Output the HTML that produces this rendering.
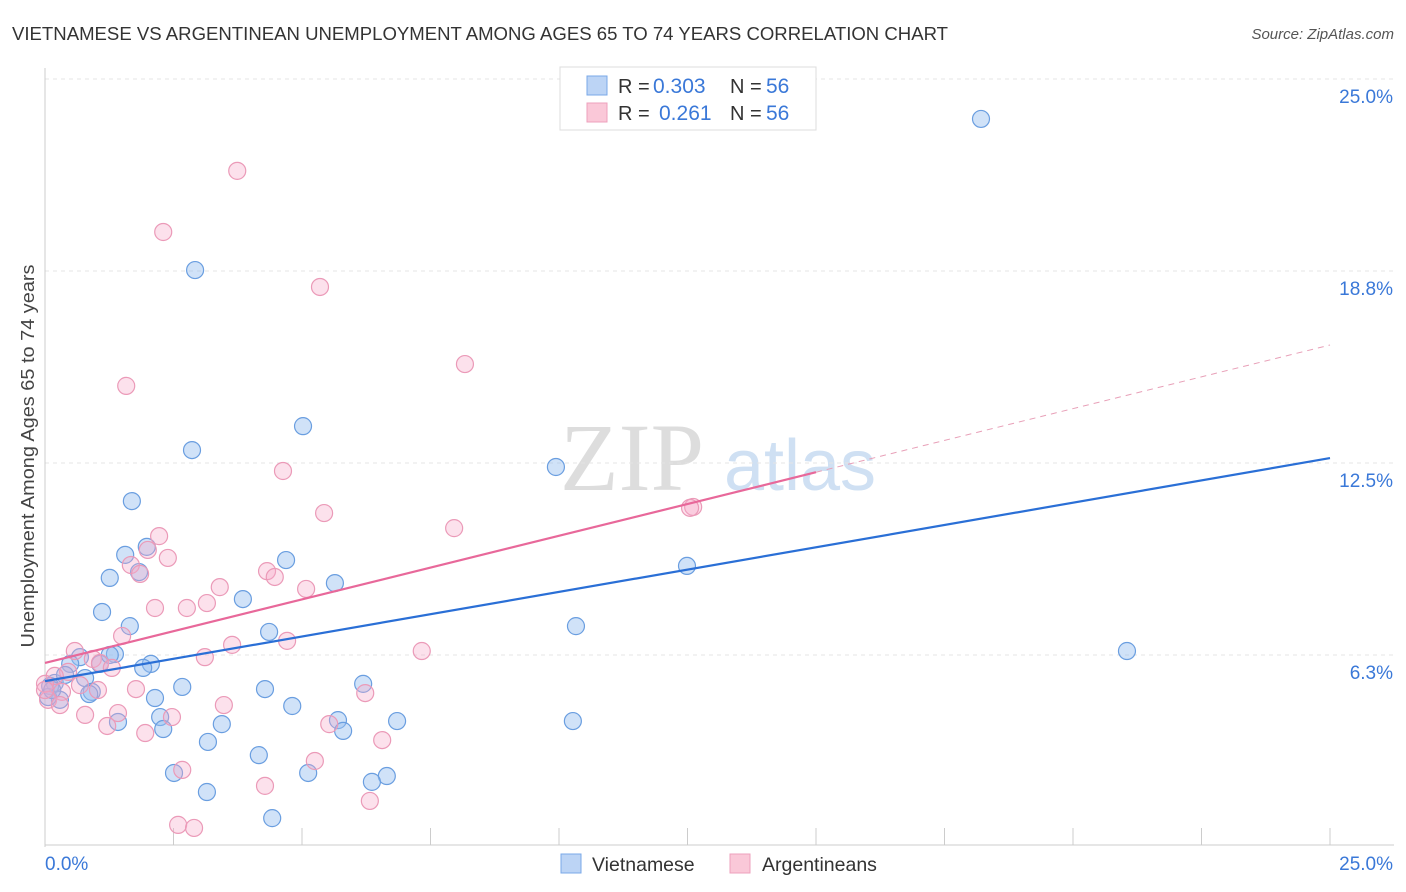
<!DOCTYPE html>
<html><head><meta charset="utf-8">
<style>
body{margin:0;background:#fff;font-family:"Liberation Sans",sans-serif;}
svg{display:block}
</style></head>
<body>
<svg id="chart" width="1406" height="892" xmlns="http://www.w3.org/2000/svg">
<text x="12" y="40" font-size="18" fill="#333" textLength="936" lengthAdjust="spacingAndGlyphs">VIETNAMESE VS ARGENTINEAN UNEMPLOYMENT AMONG AGES 65 TO 74 YEARS CORRELATION CHART</text>
<text x="1394" y="39" font-size="15" fill="#555" font-style="italic" text-anchor="end">Source: ZipAtlas.com</text>
<g id="watermark">
<text x="632" y="490" font-size="96" fill="#ddd" text-anchor="middle" font-family="Liberation Serif, serif">ZIP</text>
<text x="800" y="490" font-size="72" fill="#cfe0f3" text-anchor="middle">atlas</text>
</g>
<g id="grid"></g>
<g id="axes"></g>
<g id="pts"></g>
<g id="lines"></g>
<text transform="translate(34,456) rotate(-90)" font-size="18" fill="#444" text-anchor="middle" textLength="383" lengthAdjust="spacingAndGlyphs">Unemployment Among Ages 65 to 74 years</text>
<g>
<rect x="560" y="67" width="256" height="63" fill="#fff" stroke="#ddd"/>
<rect x="587" y="76" width="20" height="19" fill="#bcd4f5" stroke="#7aa8e8"/>
<text x="618" y="93" font-size="20" fill="#333">R = </text><text x="653" y="93" font-size="21" fill="#3a78d8">0.303</text>
<text x="730" y="93" font-size="20" fill="#333">N = </text><text x="766" y="93" font-size="21" fill="#3a78d8">56</text>
<rect x="587" y="103" width="20" height="19" fill="#fac8d8" stroke="#eea0bc"/>
<text x="618" y="120" font-size="20" fill="#333">R = </text><text x="659" y="120" font-size="21" fill="#3a78d8">0.261</text>
<text x="730" y="120" font-size="20" fill="#333">N = </text><text x="766" y="120" font-size="21" fill="#3a78d8">56</text>
</g>
<g>
<rect x="561" y="854" width="20" height="19" fill="#bcd4f5" stroke="#7aa8e8"/>
<text x="592" y="871" font-size="19.5" fill="#333">Vietnamese</text>
<rect x="730" y="854" width="20" height="19" fill="#fac8d8" stroke="#eea0bc"/>
<text x="762" y="871" font-size="19.5" fill="#333">Argentineans</text>
</g>
</svg>
<script>
const yTicks=[6.25,12.5,18.75,25];
const yTickLabels=["6.3%","12.5%","18.8%","25.0%"];
const xTicks=[0,2.5,5,7.5,10,12.5,15,17.5,20,22.5,25];
const viX=[18.21,2.92,5.02,2.86,9.94,1.69,1.56,1.98,4.69,1.26,1.83,5.64,3.85,1.11,1.65,10.33,12.49,4.36,21.05,1.36,0.68,0.49,1.07,2.06,1.91,0.19,0.10,0.78,0.91,0.86,2.67,4.28,6.19,2.14,0.29,4.81,2.24,5.70,6.85,10.27,1.42,3.44,2.30,5.80,3.17,4.16,2.51,5.12,6.65,6.36,3.15,4.42,0.06,0.14,0.39,1.26];
const viY=[23.70,18.78,13.70,12.92,12.37,11.26,9.51,9.77,9.34,8.76,8.95,8.59,8.07,7.65,7.19,7.19,9.15,7.00,6.38,6.28,6.18,5.96,5.96,5.96,5.83,5.34,5.24,5.50,5.05,4.98,5.21,5.14,5.31,4.85,4.79,4.59,4.23,4.13,4.10,4.10,4.07,4.00,3.84,3.78,3.42,2.99,2.41,2.41,2.31,2.12,1.79,0.94,4.88,5.11,5.60,6.25];
const arX=[3.74,2.30,5.35,8.17,1.58,4.63,5.43,7.96,2.22,12.61,2.00,2.39,1.67,4.32,4.47,1.85,3.40,5.08,2.14,2.76,3.15,1.50,3.64,4.71,7.33,0.58,0.93,1.07,1.30,3.11,0.45,0.19,0.0,1.03,1.77,0.33,3.48,6.23,0.78,1.42,2.47,1.21,1.95,5.53,6.56,5.25,2.67,4.28,6.32,2.59,2.90,0.06,0.29,0.68,0.0,12.55];
const arY=[22.01,20.02,18.23,15.72,15.01,12.24,10.87,10.38,10.12,11.07,9.67,9.41,9.18,8.98,8.79,8.89,8.46,8.40,7.78,7.78,7.94,6.87,6.58,6.71,6.38,6.38,6.12,5.99,5.83,6.18,5.70,5.57,5.31,5.11,5.14,5.05,4.62,5.01,4.30,4.36,4.23,3.94,3.71,4.00,3.48,2.80,2.51,1.99,1.50,0.72,0.62,4.79,4.62,5.27,5.11,11.04];
const viTrend=[5.40,12.66];
const arTrend=[5.99,16.34];
const arSolidEnd=15;

const NS="http://www.w3.org/2000/svg";
const X0=45,X1=1330,Y0=847,Y25=79;
const sx=v=>X0+(v/25)*(X1-X0);
const sy=v=>Y0-(v/25)*(Y0-Y25);
function mk(tag,attrs,parent){const e=document.createElementNS(NS,tag);for(const k in attrs)e.setAttribute(k,attrs[k]);document.getElementById(parent).appendChild(e);return e;}

yTicks.forEach((t,i)=>{
  const g=mk('line',{x1:X0,x2:1394,y1:sy(t),y2:sy(t),stroke:'#e4e4e4','stroke-dasharray':'4,4'},'grid');
  
  
  const l=mk('text',{x:1393,y:sy(t)+24,'font-size':19,fill:'#3a78d8','text-anchor':'end'},'axes');
  l.textContent=yTickLabels[i];
  
  
});
const ax=mk('line',{x1:X0,x2:X0,y1:68,y2:Y0,stroke:'#ccc'},'axes');


const bx=mk('line',{x1:X0,x2:1394,y1:Y0-2,y2:Y0-2,stroke:'#ccc'},'axes');


xTicks.forEach(t=>{
  const k=mk('line',{x1:sx(t),x2:sx(t),y1:828,y2:845,stroke:'#ccc'},'axes');
  
  
});
const xl0=mk('text',{x:45,y:870,'font-size':19,fill:'#3a78d8'},'axes');xl0.textContent='0.0%';


const xl1=mk('text',{x:1393,y:870,'font-size':19,fill:'#3a78d8','text-anchor':'end'},'axes');xl1.textContent='25.0%';



viX.forEach((x,i)=>{
  const c=mk('circle',{cx:sx(x),cy:sy(viY[i]),r:8.5,fill:'rgba(150,190,240,0.45)',stroke:'#6a9ee0','stroke-width':1.2},'pts');
  
  
});
arX.forEach((x,i)=>{
  const c=mk('circle',{cx:sx(x),cy:sy(arY[i]),r:8.5,fill:'rgba(245,170,200,0.35)',stroke:'#eb9ab8','stroke-width':1.2},'pts');
  
  
});
const arAt=x=>arTrend[0]+(arTrend[1]-arTrend[0])*x/25;
const l1=mk('line',{x1:sx(0),y1:sy(viTrend[0]),x2:sx(25),y2:sy(viTrend[1]),stroke:'#2a6fd6','stroke-width':2.2},'lines');


const l2=mk('line',{x1:sx(0),y1:sy(arTrend[0]),x2:sx(arSolidEnd),y2:sy(arAt(arSolidEnd)),stroke:'#e8689a','stroke-width':2.2},'lines');


const l3=mk('line',{x1:sx(arSolidEnd),y1:sy(arAt(arSolidEnd)),x2:sx(25),y2:sy(arTrend[1]),stroke:'#e8a0b8','stroke-width':1,'stroke-dasharray':'6,5'},'lines');


</script>
</body></html>
